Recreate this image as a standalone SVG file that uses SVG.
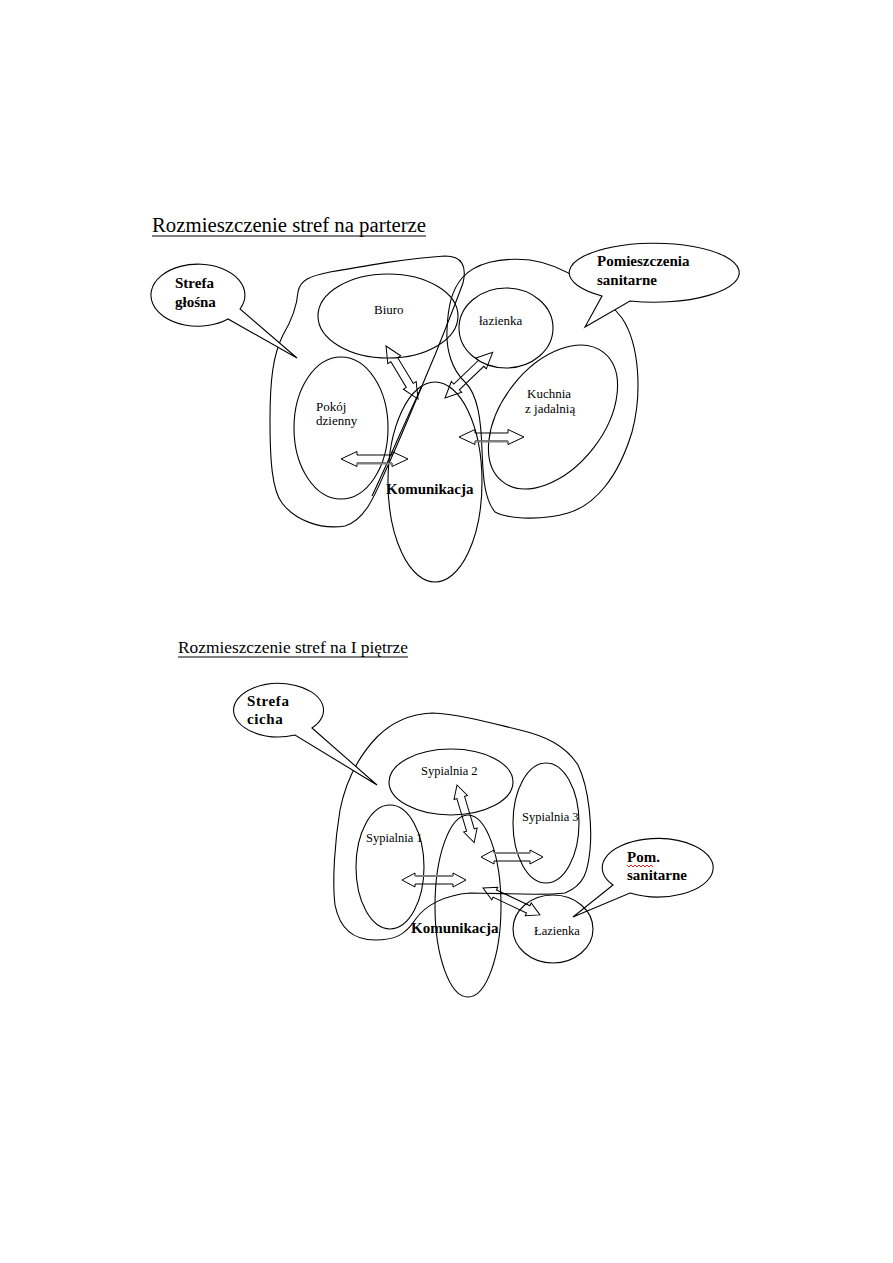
<svg xmlns="http://www.w3.org/2000/svg" width="893" height="1263" viewBox="0 0 893 1263">
<style>
.o{fill:none;stroke:#000;stroke-width:1.1}
.c{fill:#fff;stroke:#000;stroke-width:1.1}
.a{fill:none;stroke:#000;stroke-width:1}
.sh{stroke:#808080;stroke-width:2;fill:none}
.t{font-family:"Liberation Serif","Times New Roman",serif;fill:#000}
.b{font-family:"Liberation Serif","Times New Roman",serif;font-weight:bold;fill:#000}
.ul{stroke:#000;stroke-width:1}
</style>
<rect width="893" height="1263" fill="#fff"/>

<!-- ===== Ground floor ===== -->
<g id="title-parter">
<text class="t" x="152" y="232" font-size="20" textLength="274" lengthAdjust="spacingAndGlyphs">Rozmieszczenie stref na parterze</text>
<line class="ul" x1="152" y1="236" x2="426" y2="236"/>
</g>

<g id="zone-glosna">
<path class="o" d="M 298,292 C 300,280 310,276 330,272 C 370,265 410,258 445,256 C 462,256 467,266 463,283 C 455,305 445,330 435,355 C 420,390 400,440 385,472 C 375,495 365,520 345,526 C 320,530 295,520 282,503 C 272,490 270,460 270,420 C 270,380 273,355 283,335 C 293,318 297,305 298,292 Z"/>
<path class="o" d="M 372,496 C 388,462 404,424 422,386"/>
</g>

<g id="zone-sanitarne">
<path class="o" d="M 462,278 C 475,263 500,257 530,260 C 565,265 600,290 622,318 C 640,345 642,395 632,432 C 618,478 595,505 568,513 C 545,520 510,520 495,512 C 485,500 483,480 482,450 C 481,420 478,395 465,382 C 452,370 446,350 447,330 C 448,305 452,290 462,278 Z"/>
</g>

<g id="callout-glosna">
<path class="c" d="M 228,319 A 47,31 0 1,1 240,309 L 297,358 Z"/>
<text class="b" x="175" y="288" font-size="15">Strefa</text>
<text class="b" x="175" y="307" font-size="15">głośna</text>
</g>

<g id="callout-pom-sanitarne">
<path class="c" d="M 630,301 A 85,29.5 0 1,0 602,296 L 585,327 Z"/>
<text class="b" x="597" y="266" font-size="15">Pomieszczenia</text>
<text class="b" x="597" y="285" font-size="15">sanitarne</text>
</g>

<g id="biuro">
<ellipse class="o" cx="388" cy="316" rx="70" ry="42"/>
<text class="t" x="374" y="314" font-size="13">Biuro</text>
</g>

<g id="lazienka-parter">
<ellipse class="o" cx="506" cy="328" rx="47" ry="40"/>
<text class="t" x="479" y="325" font-size="13">łazienka</text>
</g>

<g id="kuchnia">
<ellipse class="o" cx="553" cy="417" rx="82" ry="51" transform="rotate(-52 553 417)"/>
<text class="t" x="527" y="398" font-size="13">Kuchnia</text>
<text class="t" x="525" y="413" font-size="13">z jadalnią</text>
</g>

<g id="pokoj-dzienny">
<ellipse class="o" cx="341" cy="428" rx="47" ry="71"/>
<text class="t" x="316" y="411" font-size="13">Pokój</text>
<text class="t" x="316" y="425" font-size="13">dzienny</text>
</g>

<g id="komunikacja-parter">
<ellipse class="o" cx="435" cy="482" rx="47" ry="100"/>
<text class="b" x="386" y="494" font-size="15">Komunikacja</text>
</g>

<!-- ===== First floor ===== -->
<g id="title-pietro">
<text class="t" x="178" y="653" font-size="17" textLength="230" lengthAdjust="spacingAndGlyphs">Rozmieszczenie stref na I piętrze</text>
<line class="ul" x1="178" y1="657" x2="408" y2="657"/>
</g>

<g id="zone-cicha">
<path class="o" d="M 340,810 C 345,785 355,760 377,737 C 392,722 410,714 432,713 C 460,714 495,724 520,730 C 545,736 565,745 578,765 C 590,790 592,830 590,850 C 588,870 585,885 565,893 C 540,896 500,893 470,893 C 445,895 425,905 415,920 C 405,935 395,940 375,940 C 355,940 340,930 335,905 C 332,880 335,840 340,810 Z"/>
</g>

<g id="callout-cicha">
<path class="c" d="M 312,728 A 45,26.7 0 1,0 295,735 L 377,785 Z"/>
<text class="b" x="247" y="706" font-size="15" letter-spacing="0.6">Strefa</text>
<text class="b" x="247" y="724" font-size="15" letter-spacing="0.6">cicha</text>
</g>

<g id="callout-pom">
<path class="c" d="M 630,893 A 55.5,29.2 0 1,0 613,885 L 573,917 Z"/>
<text class="b" x="627" y="862" font-size="15">Pom.</text>
<polyline fill="none" stroke="#e00000" stroke-width="0.9" points="627,865 629,867 631,865 633,867 635,865 637,867 639,865 641,867 643,865 645,867 647,865 649,867 651,865 653,867"/>
<text class="b" x="627" y="880" font-size="15">sanitarne</text>
</g>

<g id="sypialnia-2">
<ellipse class="o" cx="451" cy="782" rx="62" ry="33"/>
<text class="t" x="421" y="775" font-size="12.5">Sypialnia 2</text>
</g>

<g id="sypialnia-3">
<ellipse class="o" cx="546" cy="823" rx="33" ry="60"/>
<text class="t" x="522" y="821" font-size="12.5">Sypialnia 3</text>
</g>

<g id="sypialnia-1">
<ellipse class="o" cx="390" cy="867" rx="34" ry="62"/>
<text class="t" x="366" y="842" font-size="12.5">Sypialnia 1</text>
</g>

<g id="komunikacja-pietro">
<ellipse class="o" cx="468" cy="906" rx="33" ry="91"/>
<text class="b" x="411" y="933" font-size="15">Komunikacja</text>
</g>

<g id="lazienka-pietro">
<ellipse class="o" cx="553" cy="929" rx="40" ry="34"/>
<text class="t" x="534" y="935" font-size="12.5">Łazienka</text>
</g>

<!-- ===== Connectors (double block arrows) ===== -->
<g id="connectors">
<g transform="translate(341,459)">
<path class="a" d="M0,0 L16,-7.5 L16,-4 L51,-4 L51,-7.5 L67,0 L51,7.5 L51,4 L16,4 L16,7.5 Z"/>
<line class="sh" x1="16" y1="4.5" x2="51" y2="4.5"/>
</g>
<g transform="translate(459,437)">
<path class="a" d="M0,0 L16,-7.5 L16,-4 L49,-4 L49,-7.5 L65,0 L49,7.5 L49,4 L16,4 L16,7.5 Z"/>
<line class="sh" x1="16" y1="4.5" x2="49" y2="4.5"/>
</g>
<g transform="translate(386,346) rotate(58.9)">
<path class="a" d="M0,0 L16,-7.5 L16,-4 L46,-4 L46,-7.5 L62,0 L46,7.5 L46,4 L16,4 L16,7.5 Z"/>
</g>
<g transform="translate(445,398) rotate(-43.8)">
<path class="a" d="M0,0 L16,-7.5 L16,-4 L50,-4 L50,-7.5 L66,0 L50,7.5 L50,4 L16,4 L16,7.5 Z"/>
</g>

<g transform="translate(402,880)">
<path class="a" d="M0,0 L13,-7 L13,-4 L51,-4 L51,-7 L64,0 L51,7 L51,4 L13,4 L13,7 Z"/>
<line class="sh" x1="13" y1="-4" x2="51" y2="-4"/>
</g>
<g transform="translate(481,857)">
<path class="a" d="M0,0 L13,-7 L13,-4 L49,-4 L49,-7 L62,0 L49,7 L49,4 L13,4 L13,7 Z"/>
<line class="sh" x1="13" y1="-4" x2="49" y2="-4"/>
</g>
<g transform="translate(457,785) rotate(73.4)">
<path class="a" d="M0,0 L13,-7 L13,-4 L47,-4 L47,-7 L60,0 L47,7 L47,4 L13,4 L13,7 Z"/>
</g>
<g transform="translate(483,888) rotate(25.3)">
<path class="a" d="M0,0 L13,-7 L13,-4 L50,-4 L50,-7 L63,0 L50,7 L50,4 L13,4 L13,7 Z"/>
</g>
</g>
</svg>
